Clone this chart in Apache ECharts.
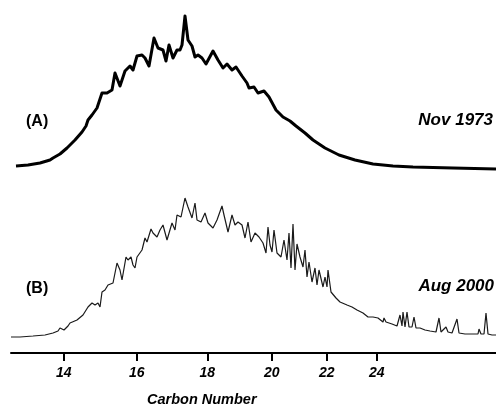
<!DOCTYPE html>
<html>
<head>
<meta charset="utf-8">
<script src="https://cdn.jsdelivr.net/npm/echarts@6/dist/echarts.min.js"></script>
<style>
  html, body { margin: 0; padding: 0; background: #fff; }
  #chart { width: 496px; height: 408px; }
</style>
</head>
<body>
<div id="chart"></div>
<script>
// Retention position (scan index) and detector response for the two GC traces.
const scansA = [5, 17, 29, 39, 42, 49, 56, 64, 71, 75, 77, 79, 81, 86, 91, 96, 101, 104, 109, 114,
  119, 122, 126, 131, 134, 138, 143, 147, 152, 155, 158, 162, 166, 169, 171, 174, 177, 181, 184, 187,
  191, 195, 202, 207, 212, 216, 221, 225, 231, 236, 238, 243, 247, 253, 258, 265, 272, 279, 285, 294,
  302, 314, 328, 344, 362, 382, 402, 442, 485];
const signalA = [-1, 0, 2, 5, 7, 11, 17, 25, 33, 39, 45, 47, 50, 57, 72, 72, 75, 92, 79, 94,
  99, 95, 109, 110, 107, 99, 127, 117, 115, 104, 120, 107, 115, 115, 120, 149, 125, 119, 108, 110,
  107, 101, 114, 105, 97, 101, 95, 98, 89, 82, 77, 78, 72, 74, 68, 55, 48, 44, 39, 32,
  25, 17, 10, 5, 1, -1, -2, -3, -4];

const scansB = [0, 9, 22, 34, 42, 47, 49, 53, 57, 59, 66, 72, 77, 81, 84, 87, 89, 91, 94, 97,
  102, 104, 106, 109, 111, 115, 117, 120, 122, 124, 126, 131, 134, 136, 140, 142, 146, 149, 152, 156,
  157, 161, 164, 166, 170, 174, 177, 181, 184, 186, 190, 194, 197, 202, 206, 211, 213, 217, 221, 224,
  227, 231, 234, 237, 240, 244, 248, 252, 255, 257, 259, 261, 263, 266, 270, 273, 276, 278, 280, 282,
  284, 286, 289, 292, 294, 296, 298, 301, 304, 306, 308, 312, 314, 316, 317, 320, 322, 325, 329, 336,
  341, 346, 352, 357, 362, 367, 372, 373, 375, 381, 386, 389, 391, 392, 394, 396, 398, 401, 403, 405,
  409, 414, 419, 425, 428, 430, 435, 437, 441, 446, 448, 454, 461, 467, 468, 470, 473, 475, 477, 481, 485];
const signalB = [1, 1, 2, 3, 5, 7, 10, 8, 12, 15, 18, 23, 31, 35, 33, 35, 31, 46, 48, 53,
  55, 55, 75, 68, 58, 81, 78, 81, 73, 70, 81, 88, 100, 96, 109, 105, 101, 108, 113, 98,
  96, 115, 108, 123, 121, 140, 131, 120, 135, 118, 116, 125, 115, 110, 118, 132, 123, 106, 123, 113,
  116, 113, 100, 116, 96, 105, 101, 95, 85, 111, 93, 86, 108, 85, 81, 98, 78, 105, 70, 114,
  68, 94, 81, 71, 88, 61, 76, 56, 70, 53, 68, 51, 61, 51, 68, 46, 48, 40, 36, 33,
  31, 28, 25, 21, 21, 20, 16, 20, 16, 14, 12, 23, 12, 26, 11, 26, 11, 11, 21, 10,
  10, 8, 7, 6, 20, 6, 11, 6, 5, 19, 5, 4, 4, 4, 9, 4, 4, 25, 4, 3, 3];

// n-alkane carbon numbers and the scan positions where they elute.
const carbonNumbers = [14, 16, 18, 20, 22, 24];
const carbonScans = [52.7, 125.7, 196.3, 260.7, 315.7, 365.7];

const traceLabels = ['(A)', '(B)'];
const dateLabels = ['Nov 1973', 'Aug 2000'];
const axisTitle = 'Carbon Number';

const pairs = (xs, ys) => xs.map((x, i) => [x, ys[i]]);
const font = 'Liberation Sans, Arial, Helvetica, sans-serif';

const chart = echarts.init(document.getElementById('chart'), null, { renderer: 'canvas' });

chart.setOption({
  animation: false,
  backgroundColor: '#ffffff',
  grid: [
    { left: 11, right: 0, top: 10, height: 170 },
    { left: 11, right: 0, top: 195, height: 158 }
  ],
  xAxis: [
    { gridIndex: 0, type: 'value', min: 0, max: 485, show: false },
    {
      gridIndex: 1, type: 'value', min: 0, max: 485,
      axisLine: { onZero: false, lineStyle: { color: '#000', width: 2 } },
      axisTick: { customValues: carbonScans, length: 8, lineStyle: { color: '#000', width: 2 } },
      axisLabel: {
        customValues: carbonScans,
        margin: 13,
        color: '#000',
        fontFamily: font,
        fontSize: 14,
        fontWeight: 'bold',
        fontStyle: 'italic',
        formatter: (v) => {
          const i = carbonScans.findIndex((s) => Math.abs(s - v) < 0.01);
          return i >= 0 ? String(carbonNumbers[i]) : '';
        }
      },
      splitLine: { show: false }
    }
  ],
  yAxis: [
    { gridIndex: 0, type: 'value', min: -15, max: 155, show: false },
    { gridIndex: 1, type: 'value', min: -15, max: 143, show: false }
  ],
  series: [
    {
      type: 'line', xAxisIndex: 0, yAxisIndex: 0,
      data: pairs(scansA, signalA),
      showSymbol: false,
      lineStyle: { color: '#000', width: 3, join: 'round' }
    },
    {
      type: 'line', xAxisIndex: 1, yAxisIndex: 1,
      data: pairs(scansB, signalB),
      showSymbol: false,
      lineStyle: { color: '#1a1a1a', width: 1.2 }
    }
  ],
  graphic: [
    { type: 'text', left: 26, top: 114, style: { text: traceLabels[0], fontFamily: font, fontSize: 16, fontWeight: 'bold', fill: '#000' } },
    { type: 'text', right: 3, top: 112, style: { text: dateLabels[0], fontFamily: font, fontSize: 17, fontWeight: 'bold', fontStyle: 'italic', fill: '#000' } },
    { type: 'text', left: 26, top: 281, style: { text: traceLabels[1], fontFamily: font, fontSize: 16, fontWeight: 'bold', fill: '#000' } },
    { type: 'text', right: 2, top: 278, style: { text: dateLabels[1], fontFamily: font, fontSize: 17, fontWeight: 'bold', fontStyle: 'italic', fill: '#000' } },
    { type: 'text', left: 147, top: 392, style: { text: axisTitle, fontFamily: font, fontSize: 14.5, fontWeight: 'bold', fontStyle: 'italic', fill: '#000' } }
  ]
});
</script>
</body>
</html>
